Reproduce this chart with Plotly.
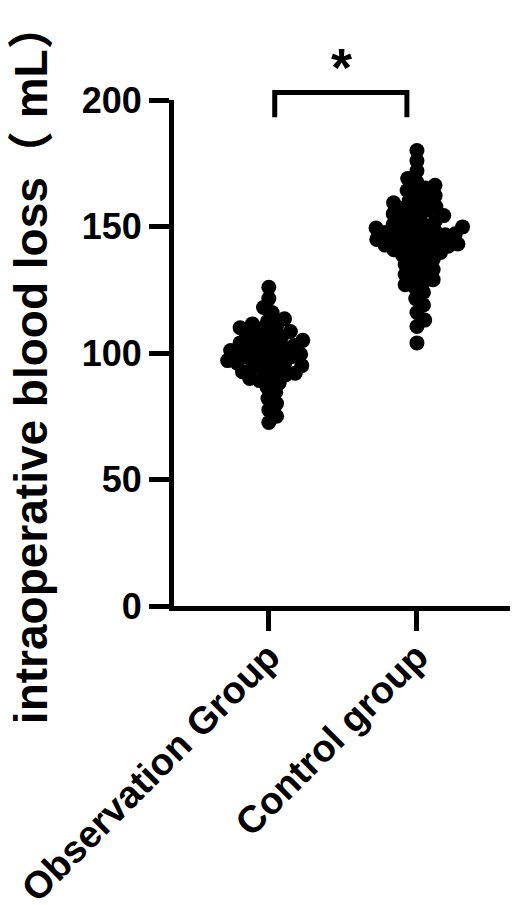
import numpy as np
import plotly.graph_objects as go

categories = ["Observation Group", "Control group"]

observation_values = [
    126, 121.5, 118, 116,
    113.5, 112.5, 111.5, 111, 110, 109.5, 108.5, 108, 107, 106.5, 106,
    105.0, 104.5, 104.0, 103.5, 103.0, 102.5, 102.0, 101.5, 101.0, 100.5,
    100.0, 99.5, 99.0, 98.5, 98.0, 97.5, 97.0, 96.5, 96.0, 95.5, 95.0,
    94.4, 93.8, 93.2, 92.6, 92, 91.3, 90.6, 89.9, 89.1, 88.2,
    86.5, 84.5, 82, 80, 77.5, 75, 72.5,
]

control_values = [
    180, 176, 172, 169,
    167.5, 166.3, 165.2, 164.2, 163.2, 162.2, 161.2, 160.3, 159.4,
    158.5, 157.8, 157.1, 156.4, 155.7, 155.0, 154.3, 153.6, 152.9, 152.2, 151.5, 150.8,
    150.3, 149.85, 149.4, 148.95, 148.5, 148.05, 147.6, 147.15, 146.7, 146.25,
    145.8, 145.35, 144.9, 144.45, 144.0, 143.55, 143.1, 142.65, 142.2, 141.75,
    141.3, 140.85, 140.4,
    139.7, 138.8, 137.9, 137, 136, 135, 134, 133, 132, 131, 130, 129, 128, 127, 126,
    124, 121.5, 119, 116, 113, 110.5, 104,
]

y_ticks = [0, 50, 100, 150, 200]
y_title = "intraoperative blood loss（ mL）"
sig_label = "*"

# figure geometry (page has an 8px body margin, so the figure is 8px smaller)
W, H = 510, 897
ML, MR, MT, MB = 166, 0, 92, 299
PW = W - ML - MR
PH = H - MT - MB
X_RANGE = [-0.64, 1.682]
Y_RANGE = [0, 200]
xpx = PW / (X_RANGE[1] - X_RANGE[0])
ypx = PH / (Y_RANGE[1] - Y_RANGE[0])


def beeswarm(vals, dist_px):
    """Greedy beeswarm: returns x offsets (data units) for each value."""
    vals = np.asarray(vals, dtype=float)
    order = np.argsort(vals)
    placed = []
    offs = np.zeros(len(vals))
    for i in order:
        y = vals[i] * ypx
        cands = [0.0]
        for xp, yp in placed:
            dy = y - yp
            if abs(dy) < dist_px:
                dx = np.sqrt(dist_px ** 2 - dy ** 2)
                cands += [xp + dx, xp - dx]
        cands.sort(key=abs)
        c = cands[0]
        for c in cands:
            if all((c - xp) ** 2 + (y - yp) ** 2 >= dist_px ** 2 - 1e-6 for xp, yp in placed):
                break
        placed.append((c, y))
        offs[i] = c / xpx
    return offs


fig = go.Figure()
for k, vals in enumerate([observation_values, control_values]):
    offs = beeswarm(vals, 10.0)
    fig.add_trace(go.Scatter(
        x=k + offs, y=vals, mode="markers",
        marker=dict(size=15, color="black", line=dict(width=0)),
        cliponaxis=False, showlegend=False, hoverinfo="skip",
    ))

FONT = "Liberation Sans, Arial, Noto Sans CJK SC, sans-serif"

fig.update_layout(
    width=W, height=H,
    margin=dict(l=ML, r=MR, t=MT, b=MB, pad=0),
    plot_bgcolor="white", paper_bgcolor="white",
    font=dict(family=FONT, color="black"),
    xaxis=dict(
        range=X_RANGE, tickmode="array", tickvals=[0, 1], ticktext=categories,
        tickangle=-45, showline=True, linewidth=5, linecolor="black",
        ticks="outside", ticklen=20, tickwidth=5, tickcolor="black",
        ticklabelstandoff=-12,
        tickfont=dict(size=38, family=FONT, weight="bold", color="black"),
        showgrid=False, zeroline=False, automargin=False, fixedrange=True,
    ),
    yaxis=dict(
        range=Y_RANGE, tickmode="array", tickvals=y_ticks,
        showline=True, linewidth=5, linecolor="black",
        ticks="outside", ticklen=20, tickwidth=5, tickcolor="black",
        tickfont=dict(size=36, family=FONT, weight="bold", color="black"),
        showgrid=False, zeroline=False, automargin=False, fixedrange=True,
    ),
    shapes=[dict(
        type="path", xref="x", yref="paper",
        path="M 0.04,0.966 L 0.04,1.0148 L 0.932,1.0148 L 0.932,0.966",
        line=dict(color="black", width=5),
    )],
    annotations=[
        dict(text=y_title, textangle=-90, xref="paper", yref="paper",
             x=(23 - ML) / PW, y=0.478, xanchor="center", yanchor="middle",
             showarrow=False,
             font=dict(size=46, family=FONT, weight="bold", color="black")),
        dict(text=sig_label, xref="x", yref="paper", x=0.49, y=1.065,
             xanchor="center", yanchor="middle", showarrow=False,
             font=dict(size=54, family=FONT, weight="bold", color="black")),
    ],
)

fig.write_html("out.html")
